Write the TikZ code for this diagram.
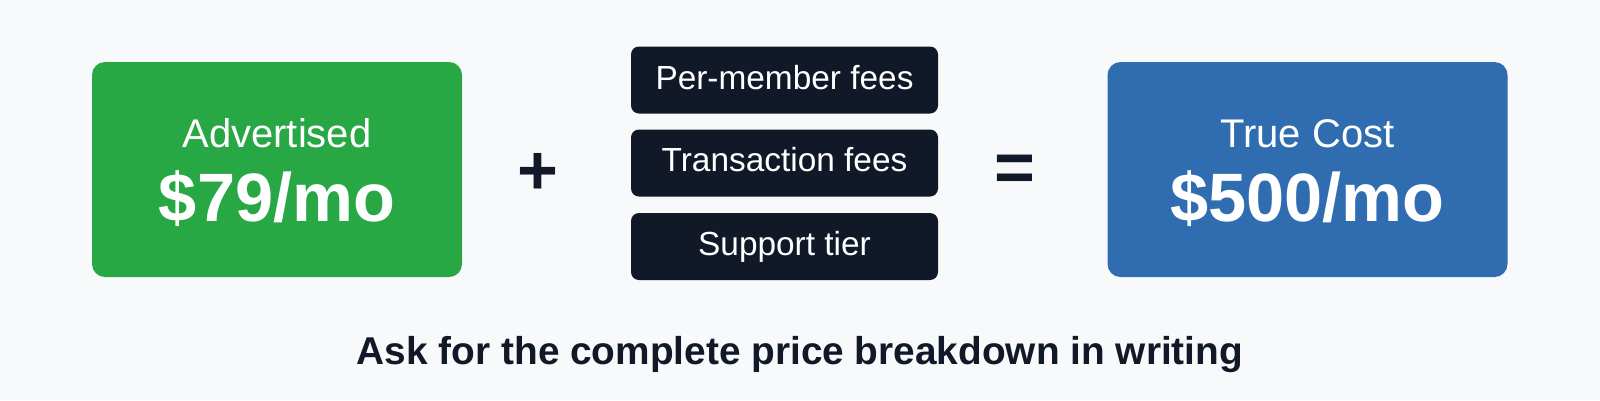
\documentclass[tikz,border=0pt]{standalone}
\usepackage{fontspec}
\setmainfont{Liberation Sans}
\definecolor{bg}{HTML}{F8F9FA}
\definecolor{grn}{HTML}{28A745}
\definecolor{blu}{HTML}{2F6DB0}
\definecolor{navy}{HTML}{111827}
\begin{document}
\begin{tikzpicture}[x=1pt,y=-1pt,
  bigbox/.style={rounded corners=13pt, inner sep=0pt, minimum height=215pt},
  feebox/.style={rounded corners=8pt, inner sep=0pt, fill=navy, minimum width=307pt, minimum height=67pt},
  headtxt/.style={anchor=base, text=white, inner sep=0pt, font=\fontsize{40}{48}\selectfont},
  pricetxt/.style={anchor=base, text=white, inner sep=0pt, font=\fontsize{68.5}{74}\selectfont\bfseries},
  feetxt/.style={anchor=base, text=white, inner sep=0pt, font=\fontsize{33.4}{40}\selectfont},
  optxt/.style={text=navy, inner sep=0pt, font=\fontsize{70}{76}\selectfont\bfseries},
  notetxt/.style={anchor=base, text=navy, inner sep=0pt, font=\fontsize{38.8}{44}\selectfont\bfseries}]
\fill[bg] (0,0) rectangle (1600,400);
\useasboundingbox (0,0) rectangle (1600,400);
% left box
\node[bigbox, fill=grn, minimum width=370pt] (adv) at (277,169.5) {};
\node[headtxt] (advlbl) at (277,147) {Advertised};
\node[pricetxt] (advprice) at (277,221) {\$79/mo};
% plus
\node[optxt] (plus) at (538,174) {+};
% fee boxes
\node[feebox] (fee1) at (784.5,80) {};
\node[feebox] (fee2) at (784.5,163) {};
\node[feebox] (fee3) at (784.5,246.5) {};
\node[feetxt] (fee1lbl) at (784.5,89) {Per-member fees};
\node[feetxt] (fee2lbl) at (784.5,171) {Transaction fees};
\node[feetxt] (fee3lbl) at (784.5,255) {Support tier};
% equals
\node[optxt] (eq) at (1015,173) {=};
% right box
\node[bigbox, fill=blu, minimum width=400pt] (true) at (1307.5,169.5) {};
\node[headtxt] (truelbl) at (1307.5,147) {True Cost};
\node[pricetxt] (trueprice) at (1307.5,221.5) {\$500/mo};
% note
\node[notetxt] (note) at (800,364) {Ask for the complete price breakdown in writing};
\end{tikzpicture}
\end{document}
